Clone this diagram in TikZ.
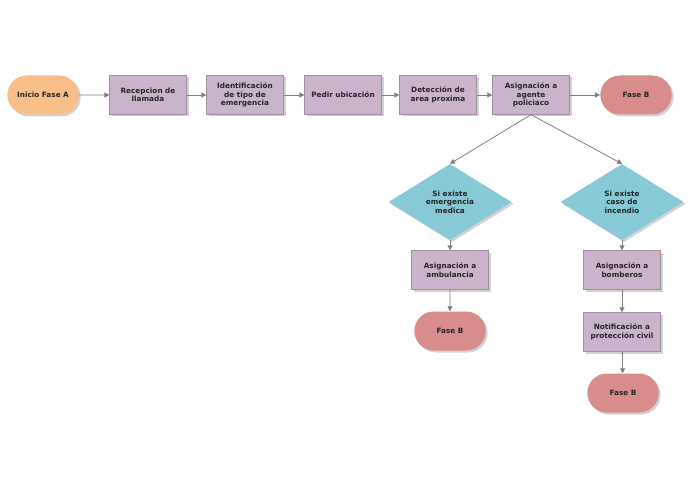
\documentclass[tikz,border=0pt]{standalone}
\usepackage{fontspec}
\setmainfont{DejaVu Sans}
\usetikzlibrary{shapes.geometric,shapes.misc,shadows,arrows.meta}
\begin{document}
\begin{tikzpicture}[x=1pt,y=-1pt,
  base/.style={font=\bfseries\fontsize{7.3}{8.5}\selectfont,align=center,text=black!85,
    drop shadow={shadow xshift=2pt,shadow yshift=-2pt,fill=black!35}},
  proc/.style={base,rectangle,fill=proc,draw=proc!80!black,line width=0.3pt,minimum width=77pt,minimum height=39pt,inner sep=1pt},
  term/.style={base,rounded rectangle,minimum width=78pt,minimum height=39pt},
  start/.style={term,fill=startc},
  stop/.style={term,fill=stopc},
  dec/.style={base,diamond,fill=decc,aspect=1.6,minimum width=123pt,minimum height=76pt,inner sep=0pt},
  arr/.style={draw=black!50,line width=0.8pt,-{Triangle[length=5pt,width=5pt]}}]
\definecolor{proc}{HTML}{C9B4CB}
\definecolor{startc}{HTML}{F9BF88}
\definecolor{stopc}{HTML}{D98C8C}
\definecolor{decc}{HTML}{87C9D6}
\useasboundingbox (0,0) rectangle (695,494);
\node[start] (a) at (43,95) {Inicio Fase A};
\node[proc] (b) at (148,95) {Recepcion de\\llamada};
\node[proc] (c) at (245,95) {Identificación\\de tipo de\\emergencia};
\node[proc] (d) at (343,95) {Pedir ubicación};
\node[proc] (e) at (438,95) {Detección de\\area proxima};
\node[proc] (f) at (531,95) {Asignación a\\agente\\policiaco};
\node[stop] (g) at (636,95) {Fase B};
\node[dec] (h) at (450,202) {Si existe\\emergencia\\medica};
\node[dec] (i) at (622,202) {Si existe\\caso de\\incendio};
\node[proc] (j) at (450,270) {Asignación a\\ambulancia};
\node[stop] (k) at (450,331) {Fase B};
\node[proc] (l) at (622,270) {Asignación a\\bomberos};
\node[proc] (m) at (622,332) {Notificación a\\protección civil};
\node[stop] (n) at (623,393) {Fase B};
\draw[arr] (a) -- (b);
\draw[arr] (b) -- (c);
\draw[arr] (c) -- (d);
\draw[arr] (d) -- (e);
\draw[arr] (e) -- (f);
\draw[arr] (f) -- (g);
\draw[arr] (f.south) -- (h.north);
\draw[arr] (f.south) -- (i.north);
\draw[arr] (h) -- (j);
\draw[arr] (j) -- (k);
\draw[arr] (i) -- (l);
\draw[arr] (l) -- (m);
\draw[arr] (m) -- (n);
\end{tikzpicture}
\end{document}
